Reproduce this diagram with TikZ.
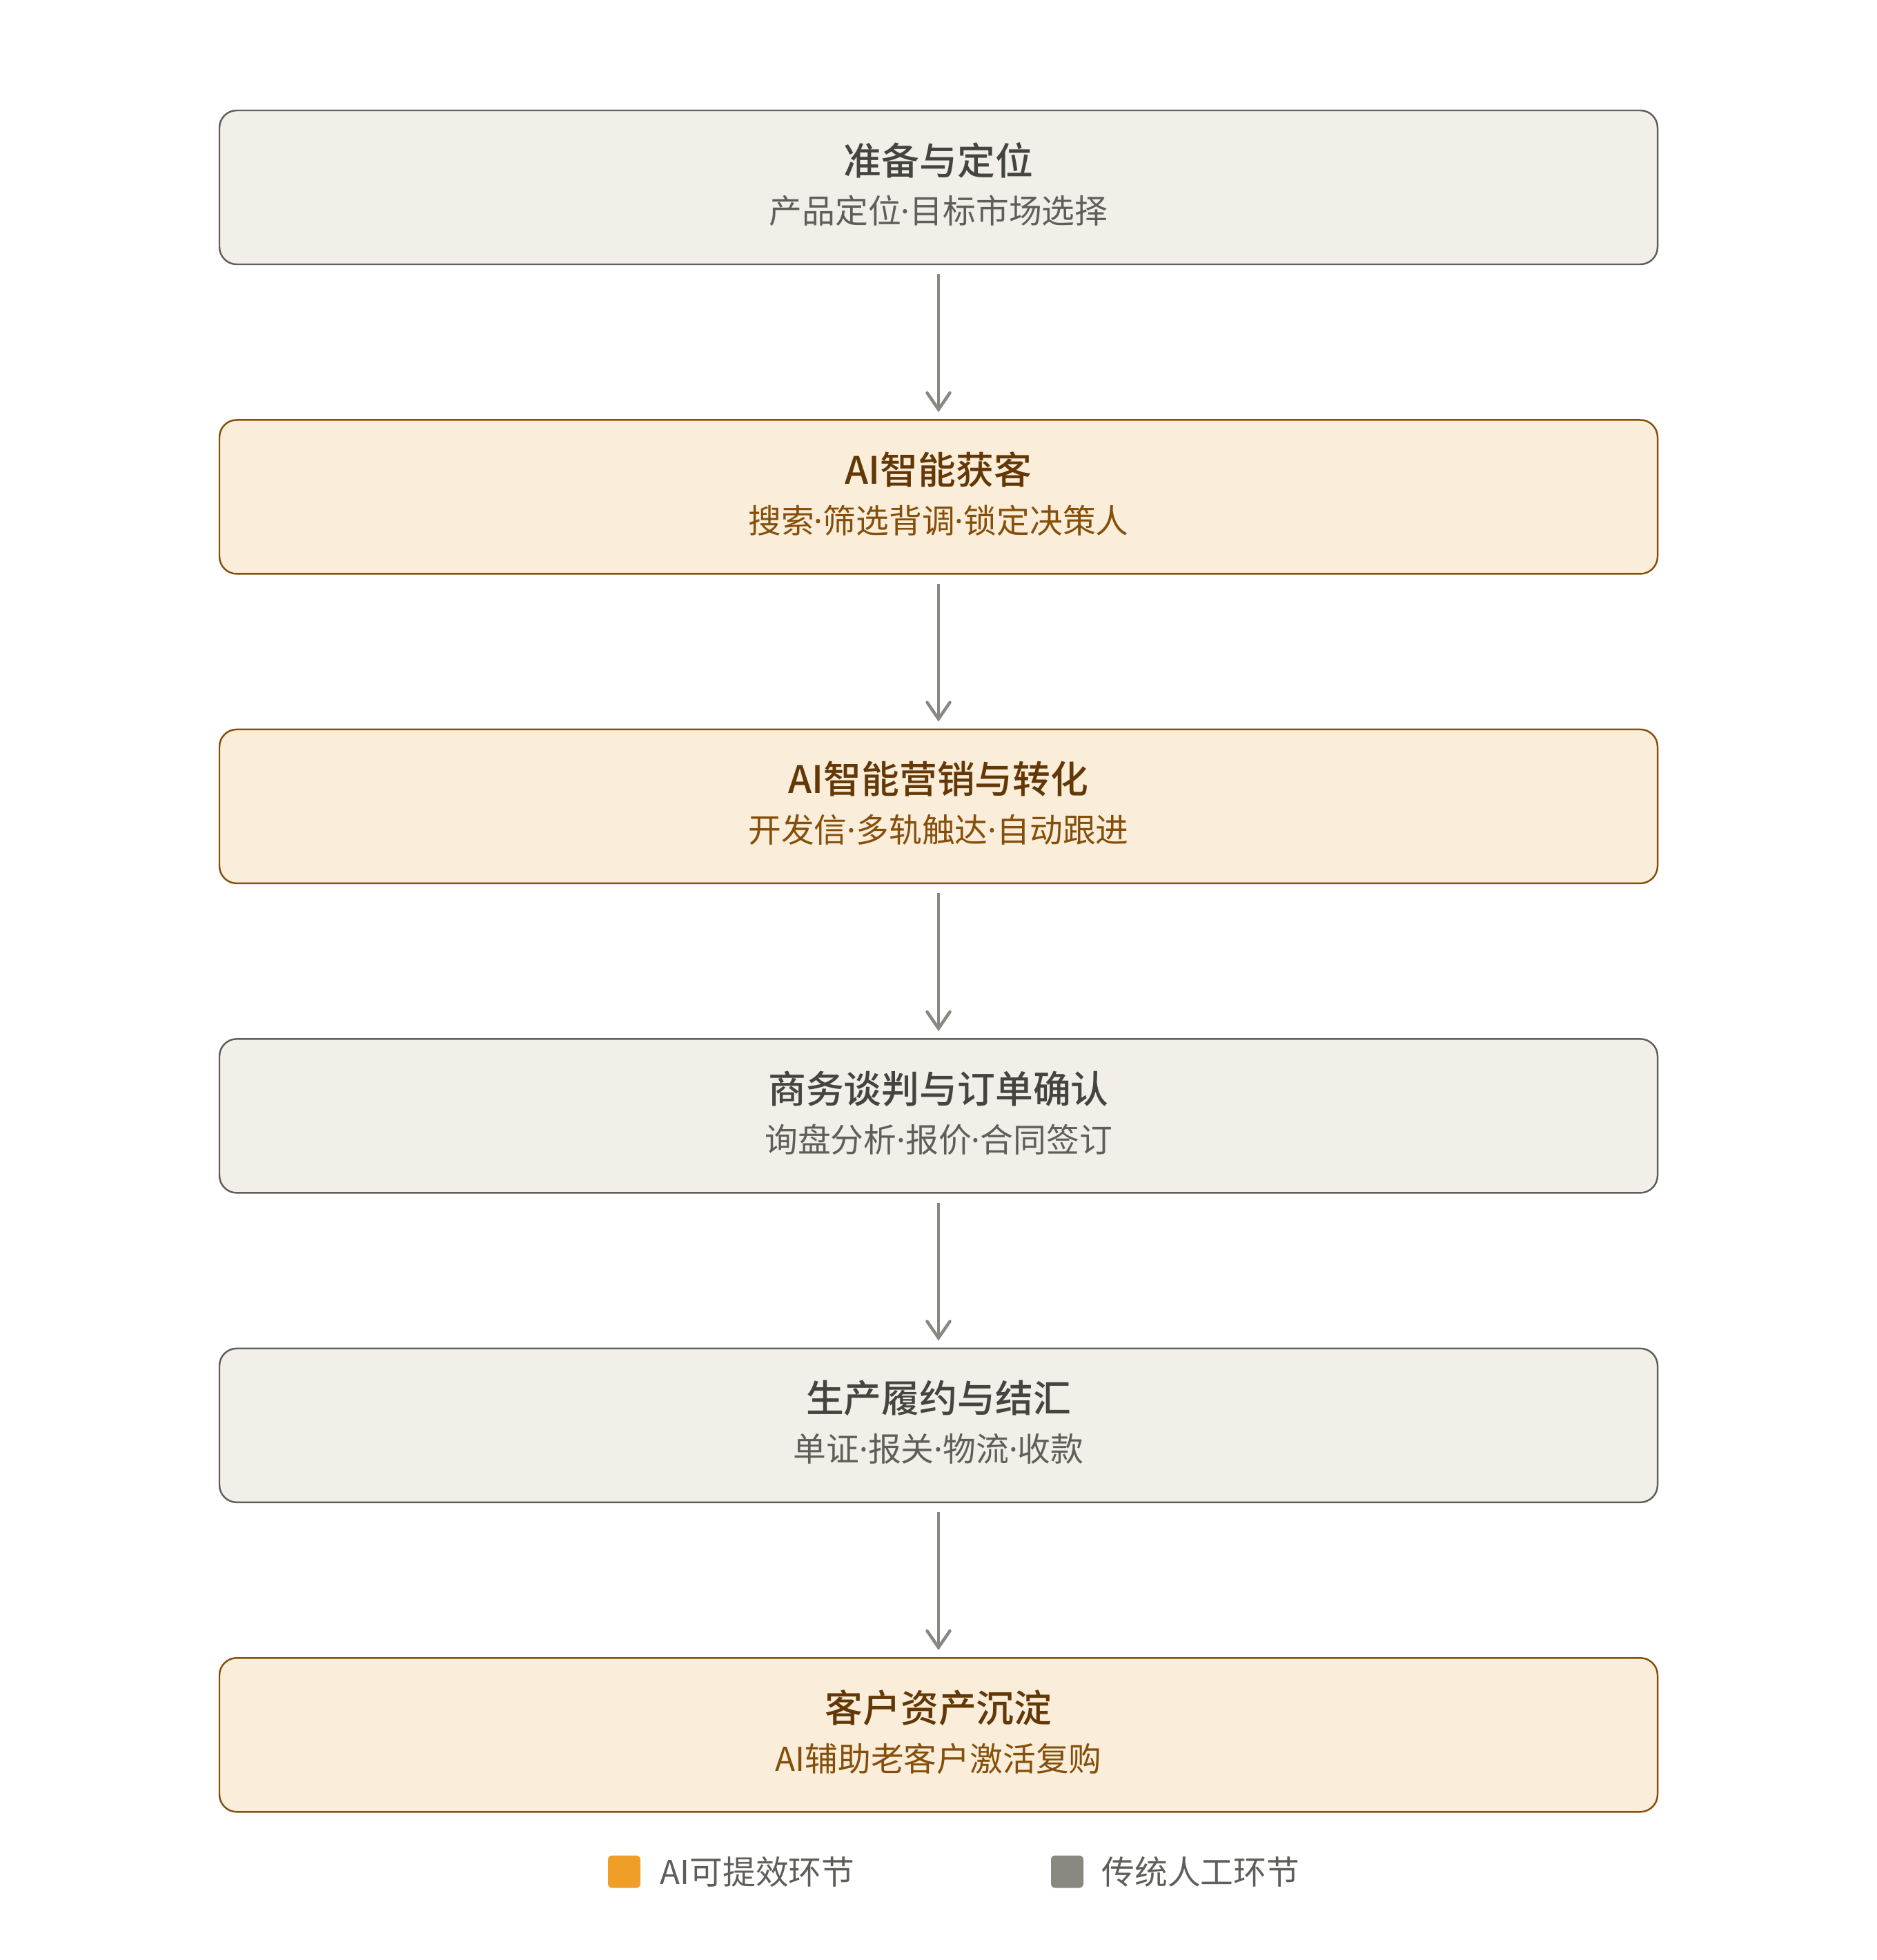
\documentclass[tikz,border=0pt]{standalone}
\usepackage{fontspec}
\setmainfont{Noto Sans CJK SC}[BoldFont={Noto Sans CJK SC Medium}]
\newfontfamily\latinfont{Noto Sans}
\usepackage{tikz}
\usetikzlibrary{positioning,arrows.meta}
\definecolor{greyfill}{HTML}{F1EFE8}
\definecolor{greyline}{HTML}{5F5E5A}
\definecolor{greytitle}{HTML}{444441}
\definecolor{greysub}{HTML}{5F5E5A}
\definecolor{amberfill}{HTML}{FAEEDA}
\definecolor{amberline}{HTML}{854F0B}
\definecolor{ambertitle}{HTML}{633806}
\definecolor{ambersub}{HTML}{854F0B}
\definecolor{amberkey}{HTML}{EF9F27}
\definecolor{arrowgrey}{HTML}{888780}
\newcommand{\tfont}{\fontsize{15.6}{20}\selectfont\bfseries}
\newcommand{\sfont}{\fontsize{13.6}{18}\selectfont}
\newcommand{\md}{{\latinfont ·}}
\newcommand{\stagetext}[3]{{\tfont\color{#1title}#2}\\[2.2mm]{\sfont\color{#1sub}#3}\rule[-1.3mm]{0pt}{0pt}}

\begin{document}
\begin{tikzpicture}[
	stage/.style={rectangle, rounded corners=0.25cm, line width=0.7pt,
		minimum width=20.84cm, minimum height=2.23cm, align=center, inner sep=0pt},
	manual/.style={stage, draw=greyline, fill=greyfill},
	aistage/.style={stage, draw=amberline, fill=amberfill},
	flow/.style={draw=arrowgrey, line width=0.45mm,
		-{Straight Barb[length=2.4mm, width=3.3mm, line cap=round]},
		shorten <=0.13cm, shorten >=0.1cm},
	keybox/.style={rectangle, rounded corners=0.06cm, minimum size=0.47cm, inner sep=0pt},
	keytext/.style={font=\sfont, text=greysub, anchor=west, inner sep=0pt},
	node distance=2.23cm
	]
	\useasboundingbox (0,0) rectangle (27.2,-28.4);
	
	\node[manual] (prep) at (13.6,-2.715) {\stagetext{grey}{准备与定位}{产品定位\md 目标市场选择}};
	\node[aistage, below=of prep] (acquire) {\stagetext{amber}{AI智能获客}{搜索\md 筛选背调\md 锁定决策人}};
	\node[aistage, below=of acquire] (market) {\stagetext{amber}{AI智能营销与转化}{开发信\md 多轨触达\md 自动跟进}};
	\node[manual, below=of market] (deal) {\stagetext{grey}{商务谈判与订单确认}{询盘分析\md 报价\md 合同签订}};
	\node[manual, below=of deal] (deliver) {\stagetext{grey}{生产履约与结汇}{单证\md 报关\md 物流\md 收款}};
	\node[aistage, below=of deliver] (retain) {\stagetext{amber}{客户资产沉淀}{AI辅助老客户激活复购}};
	
	\foreach \a/\b in {prep/acquire, acquire/market, market/deal, deal/deliver, deliver/retain}
		\draw[flow] (\a) -- (\b);
	
	% legend
	\node[keybox, fill=amberkey] (keyai) at (9.045,-27.12) {};
	\node[keytext, right=0.27cm of keyai] (keyaitext) {AI可提效环节};
	\node[keybox, fill=arrowgrey] (keyman) at (15.465,-27.12) {};
	\node[keytext, right=0.25cm of keyman] (keymantext) {传统人工环节};
\end{tikzpicture}
\end{document}
